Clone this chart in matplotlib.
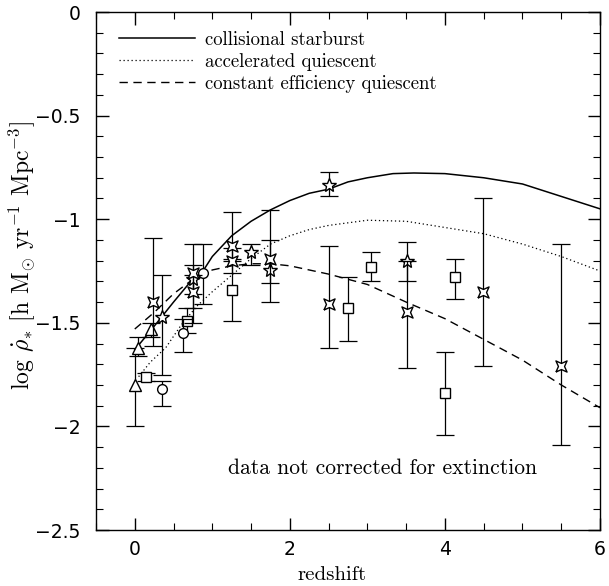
import matplotlib
matplotlib.use("Agg")
import matplotlib.pyplot as plt
import numpy as np

plt.rcParams['font.family'] = ['cmr10', 'DejaVu Serif']
plt.rcParams['mathtext.fontset'] = 'cm'
plt.rcParams['axes.formatter.use_mathtext'] = True

# ---- model curves ----
z_coll = [0.0, 0.2, 0.35, 0.5, 0.7, 0.88, 1.0, 1.25, 1.5, 1.75, 2.0, 2.25, 2.5, 2.75, 3.0, 3.33, 3.6, 4.0, 4.5, 5.0, 5.5, 6.0]
y_coll = [-1.63, -1.54, -1.47, -1.40, -1.31, -1.25, -1.18, -1.08, -1.01, -0.955, -0.91, -0.875, -0.855, -0.82, -0.80, -0.78, -0.777, -0.78, -0.80, -0.83, -0.89, -0.95]

z_accel = [0.05, 0.2, 0.4, 0.6, 0.8, 1.0, 1.25, 1.5, 1.75, 2.0, 2.25, 2.5, 3.0, 3.5, 4.0, 4.5, 5.0, 5.5, 6.0]
y_accel = [-1.76, -1.69, -1.62, -1.51, -1.42, -1.35, -1.27, -1.19, -1.12, -1.08, -1.05, -1.03, -1.005, -1.01, -1.04, -1.07, -1.12, -1.18, -1.25]

z_const = [0.0, 0.25, 0.5, 0.75, 1.0, 1.25, 1.5, 1.75, 2.0, 2.5, 3.0, 3.5, 4.0, 4.5, 5.0, 5.5, 6.0]
y_const = [-1.53, -1.45, -1.36, -1.29, -1.245, -1.225, -1.215, -1.215, -1.225, -1.265, -1.315, -1.40, -1.48, -1.58, -1.68, -1.80, -1.91]

# ---- data points (value, lower end, upper end of error bar) ----
tri_z = [0.0, 0.04, 0.21]
tri_y = [-1.80, -1.62, -1.53]
tri_lo = [-2.00, -1.66, -1.57]
tri_hi = [-1.62, -1.57, -1.50]

sq_z = [0.15, 0.67, 1.25, 2.75, 3.05, 4.0, 4.13]
sq_y = [-1.76, -1.49, -1.34, -1.43, -1.23, -1.84, -1.28]
sq_lo = [-1.78, -1.55, -1.49, -1.59, -1.30, -2.04, -1.385]
sq_hi = [-1.74, -1.43, -1.20, -1.28, -1.16, -1.64, -1.19]

circ_z = [0.35, 0.62, 0.88]
circ_y = [-1.82, -1.55, -1.26]
circ_lo = [-1.90, -1.64, -1.41]
circ_hi = [-1.78, -1.48, -1.12]

star_z = [0.35, 0.75, 1.50, 1.74, 2.50, 3.51]
star_y = [-1.47, -1.29, -1.16, -1.245, -0.835, -1.20]
star_lo = [-1.75, -1.36, -1.22, -1.31, -0.89, -1.30]
star_hi = [-1.27, -1.22, -1.12, -1.10, -0.77, -1.11]

sb_z = [0.23, 0.75, 0.75, 1.25, 1.25, 1.74, 2.50, 3.51, 4.49, 5.50]
sb_y = [-1.40, -1.26, -1.35, -1.13, -1.20, -1.19, -1.41, -1.45, -1.35, -1.71]
sb_lo = [-1.61, -1.43, -1.50, -1.19, -1.26, -1.40, -1.62, -1.72, -1.71, -2.09]
sb_hi = [-1.09, -1.12, -1.27, -0.965, -1.14, -0.955, -1.13, -1.20, -0.90, -1.12]

legend_labels = ['collisional starburst', 'accelerated quiescent', 'constant efficiency quiescent']
note_text = 'data not corrected for extinction'

fig = plt.figure(figsize=(6.09, 5.86), dpi=100)
ax = fig.add_axes([96/609, 1-530/586, 504/609, 518/586])

ax.plot(z_coll, y_coll, color='black', lw=1.1, label=legend_labels[0])
ax.plot(z_accel, y_accel, color='black', lw=0.9, ls=(0, (1, 2.2)), label=legend_labels[1])
ax.plot(z_const, y_const, color='black', lw=1.0, ls=(0, (6, 4)), label=legend_labels[2])

# concave-sided square ("star-box") marker
starbox = [(-1, -1), (0, -0.55), (1, -1), (0.55, 0), (1, 1), (0, 0.55),
           (-1, 1), (-0.55, 0), (-1, -1)]

def draw(zs, ys, lo, hi, marker, ms):
    zs = np.array(zs); ys = np.array(ys)
    err = [ys - np.array(lo), np.array(hi) - ys]
    ax.errorbar(zs, ys, yerr=err, fmt='none', ecolor='black', elinewidth=0.9,
                capsize=6.5, capthick=0.9)
    ax.plot(zs, ys, ls='none', marker=marker, ms=ms, mfc='white', mec='black', mew=1.0)

draw(tri_z, tri_y, tri_lo, tri_hi, '^', 8)
draw(sq_z, sq_y, sq_lo, sq_hi, 's', 7)
draw(circ_z, circ_y, circ_lo, circ_hi, 'o', 7)
draw(star_z, star_y, star_lo, star_hi, '*', 10)
draw(sb_z, sb_y, sb_lo, sb_hi, starbox, 8)

ax.set_xlim(-0.5, 6)
ax.set_ylim(-2.5, 0)
ax.set_xticks([0, 2, 4, 6])
ax.set_xticks(np.arange(-0.5, 6.01, 0.5), minor=True)
ax.set_yticks([-2.5, -2, -1.5, -1, -0.5, 0])
ax.set_yticks(np.arange(-2.5, 0.01, 0.1), minor=True)
ax.set_xticklabels(['0', '2', '4', '6'])
ax.set_yticklabels(['\u22122.5', '\u22122', '\u22121.5', '\u22121', '\u22120.5', '0'])
for lab in ax.get_xticklabels() + ax.get_yticklabels():
    lab.set_family(['DejaVu Sans'])
    lab.set_fontsize(13.5)
ax.tick_params(which='both', direction='in', top=True, right=True)
ax.tick_params(which='major', length=9, width=1)
ax.tick_params(axis='x', which='major', pad=7)
ax.tick_params(axis='y', which='major', pad=11)
ax.tick_params(which='minor', length=5, width=0.8)
for s in ax.spines.values():
    s.set_linewidth(1.0)

ax.set_xlabel('redshift', fontsize=15)
ax.xaxis.set_label_coords(0.468, -0.07)
ax.set_ylabel(r'log $\dot{\rho}_{\ast}$ [h M$_{\odot}$ yr$^{-1}$ Mpc$^{-3}$]', fontsize=17)
ax.yaxis.set_label_coords(-0.118, 0.53)

ax.legend(loc='upper left', bbox_to_anchor=(0.046, 0.964), frameon=False,
          fontsize=13.5, handlelength=4.05, handletextpad=0.53, labelspacing=0.22,
          borderpad=0, borderaxespad=0)

ax.text(3.2, -2.2, note_text, fontsize=15.5, ha='center', va='center')

fig.savefig('out.png', dpi=100)
